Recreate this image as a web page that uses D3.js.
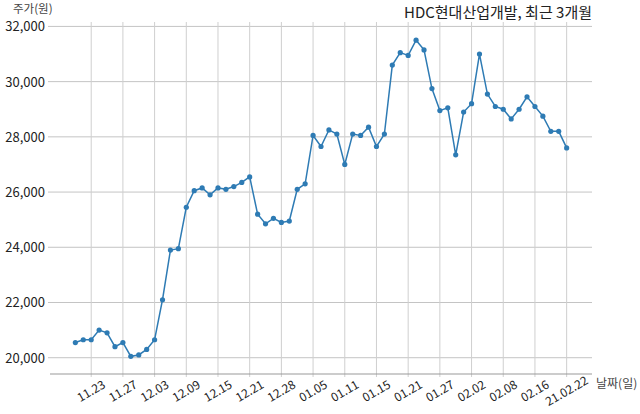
<!DOCTYPE html>
<html><head><meta charset="utf-8">
<script src="https://cdn.jsdelivr.net/npm/d3@7"></script>
<style>body{margin:0;background:#fff}svg{display:block}text{font-family:"Noto Sans CJK KR","Noto Sans",sans-serif}</style>
</head><body><svg id="c" width="640" height="414"></svg>
<script>
const dates = ["11.19","11.20","11.23","11.24","11.25","11.26","11.27","11.30",
"12.01","12.02","12.03","12.04","12.07","12.08","12.09","12.10","12.11","12.14","12.15","12.16","12.17","12.18","12.21","12.22","12.23","12.24","12.28","12.29","12.30",
"01.04","01.05","01.06","01.07","01.08","01.11","01.12","01.13","01.14","01.15","01.18","01.19","01.20","01.21","01.22","01.25","01.26","01.27","01.28","01.29",
"02.01","02.02","02.03","02.04","02.05","02.08","02.09","02.10","02.15","02.16","02.17","02.18","02.19","21.02.22"];
const prices = [20550,20650,20650,21000,20900,20400,20550,20050,20100,20300,20650,22100,23900,23950,25450,26050,
26150,25900,26150,26100,26200,26350,26550,25200,24850,25050,24900,24950,26100,26300,28050,
27650,28250,28100,27000,28100,28050,28350,27650,28100,30600,31050,30950,31500,31150,29750,28950,
29050,27350,28900,29200,31000,29550,29100,29000,28650,29000,29450,29100,28750,28200,28200,27600];
const yTicks = [20000,22000,24000,26000,28000,30000,32000];
const xTickIdx = [2,6,10,14,18,22,26,30,34,38,42,46,50,54,58,62];
const title = "HDC현대산업개발, 최근 3개월";
const yLabel = "주가(원)";
const xLabel = "날짜(일)";

const svg = d3.select("#c");
const L=50,R=592,T=22,B=374;
const x = d3.scaleLinear().domain([-3.2,65.2]).range([L,R]);
const y = d3.scaleLinear().domain([19410,32160]).range([B,T]);

// grid
svg.append("g").selectAll("line").data(yTicks).join("line")
  .attr("x1",L-2).attr("x2",R).attr("y1",d=>y(d)).attr("y2",d=>y(d))
  .attr("stroke","#c4c4c4").attr("stroke-width",1);
svg.append("g").selectAll("line").data(xTickIdx).join("line")
  .attr("x1",d=>x(d)).attr("x2",d=>x(d)).attr("y1",T).attr("y2",B+3)
  .attr("stroke","#cfcfcf").attr("stroke-width",1);
// bottom spine
svg.append("line").attr("x1",L).attr("x2",R).attr("y1",B).attr("y2",B).attr("stroke","#999").attr("stroke-width",1);

// y tick labels
svg.append("g").selectAll("text").data(yTicks).join("text")
  .attr("x",45).attr("y",d=>y(d)+5).attr("text-anchor","end")
  .attr("font-size",13).attr("fill","#222").text(d3.format(","));
// x tick labels
svg.append("g").selectAll("text").data(xTickIdx).join("text")
  .attr("transform",d=>`translate(${x(d)},${B+17}) rotate(-30)`)
  .attr("text-anchor","middle").attr("dy","0.35em")
  .attr("font-size",12).attr("fill","#222").text(d=>dates[d]);

// line
const line = d3.line().x((d,i)=>x(i)).y(d=>y(d));
svg.append("path").datum(prices).attr("d",line).attr("fill","none")
  .attr("stroke","#2e7bb4").attr("stroke-width",1.5);
svg.append("g").selectAll("circle").data(prices).join("circle")
  .attr("cx",(d,i)=>x(i)).attr("cy",d=>y(d)).attr("r",2.6).attr("fill","#2e7bb4");

// texts
svg.append("text").attr("x",R).attr("y",18).attr("text-anchor","end")
  .attr("font-size",15).attr("fill","#222").text(title);
svg.append("text").attr("x",13).attr("y",13).attr("font-size",11.5).attr("fill","#444").text(yLabel);
svg.append("text").attr("x",596).attr("y",388).attr("font-size",12).attr("fill","#444").text(xLabel);
</script></body></html>
